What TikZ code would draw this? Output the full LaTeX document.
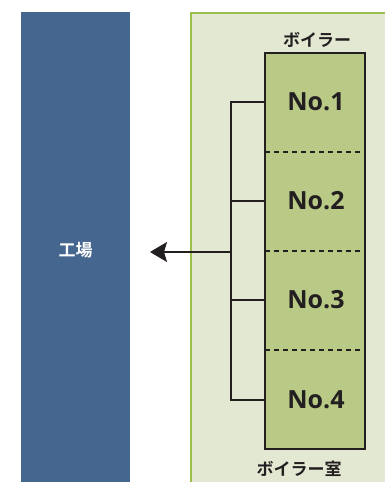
\documentclass[tikz,border=0pt]{standalone}
\usepackage{fontspec}
\setmainfont{Open Sans}
\newfontfamily\jpfont{Noto Sans CJK JP}[BoldFont={Noto Sans CJK JP Bold}]
\usetikzlibrary{arrows.meta}
\definecolor{factoryblue}{HTML}{45668F}
\definecolor{roomfill}{HTML}{E3E8D2}
\definecolor{roomedge}{HTML}{9CBE4D}
\definecolor{boilerfill}{HTML}{B8CA86}
\definecolor{inkdark}{HTML}{231F20}
\tikzset{
  boilerbox/.style={draw=inkdark, line width=1.3pt, fill=boilerfill},
  seclabel/.style={font=\bfseries\fontsize{25}{28}\selectfont, text=inkdark},
  jplabel/.style={font=\jpfont\bfseries\fontsize{17}{19}\selectfont, text=inkdark},
  pipe/.style={draw=inkdark, line width=1.3pt},
  sepline/.style={draw=inkdark, line width=1.3pt, dash pattern=on 5pt off 4pt}
}
\begin{document}
\begin{tikzpicture}[x=1pt,y=-1pt]
\useasboundingbox (0,0) rectangle (385,482);
% factory
\fill[factoryblue] (21,12) rectangle (130,482);
\node[font=\jpfont\bfseries\fontsize{17}{19}\selectfont, text=white] (factory) at (75.5,250) {工場};
% boiler room
\fill[roomfill] (190,12) rectangle (386,483);
\draw[roomedge, line width=2pt] (191,483) -- (191,13) -- (386,13);
% boiler column
\draw[boilerbox] (265,53) rectangle (365,449);
\coordinate (c1) at (265,102);
\coordinate (c2) at (265,201);
\coordinate (c3) at (265,300);
\coordinate (c4) at (265,400);
\draw[sepline] (265,152) -- (365,152);
\draw[sepline] (265,251) -- (365,251);
\draw[sepline] (265,350) -- (365,350);
\node[seclabel] (n1) at (316,102) {No.1};
\node[seclabel] (n2) at (316,201) {No.2};
\node[seclabel] (n3) at (316,300) {No.3};
\node[seclabel] (n4) at (316,400) {No.4};
\node[jplabel] (boiler) at (317,40) {ボイラー};
\node[jplabel] (room) at (299,469) {ボイラー室};
% piping
\coordinate (b1) at (231,102);
\coordinate (b4) at (231,400);
\coordinate (bm) at (231,252);
\coordinate (tip) at (150,252);
\draw[pipe] (c1) -- (b1) -- (b4) -- (c4);
\draw[pipe] (c2) -- (231,201);
\draw[pipe] (c3) -- (231,300);
\draw[pipe, -{Stealth[length=17pt, width=20pt, inset=3pt]}] (bm) -- (tip);
\end{tikzpicture}
\end{document}
